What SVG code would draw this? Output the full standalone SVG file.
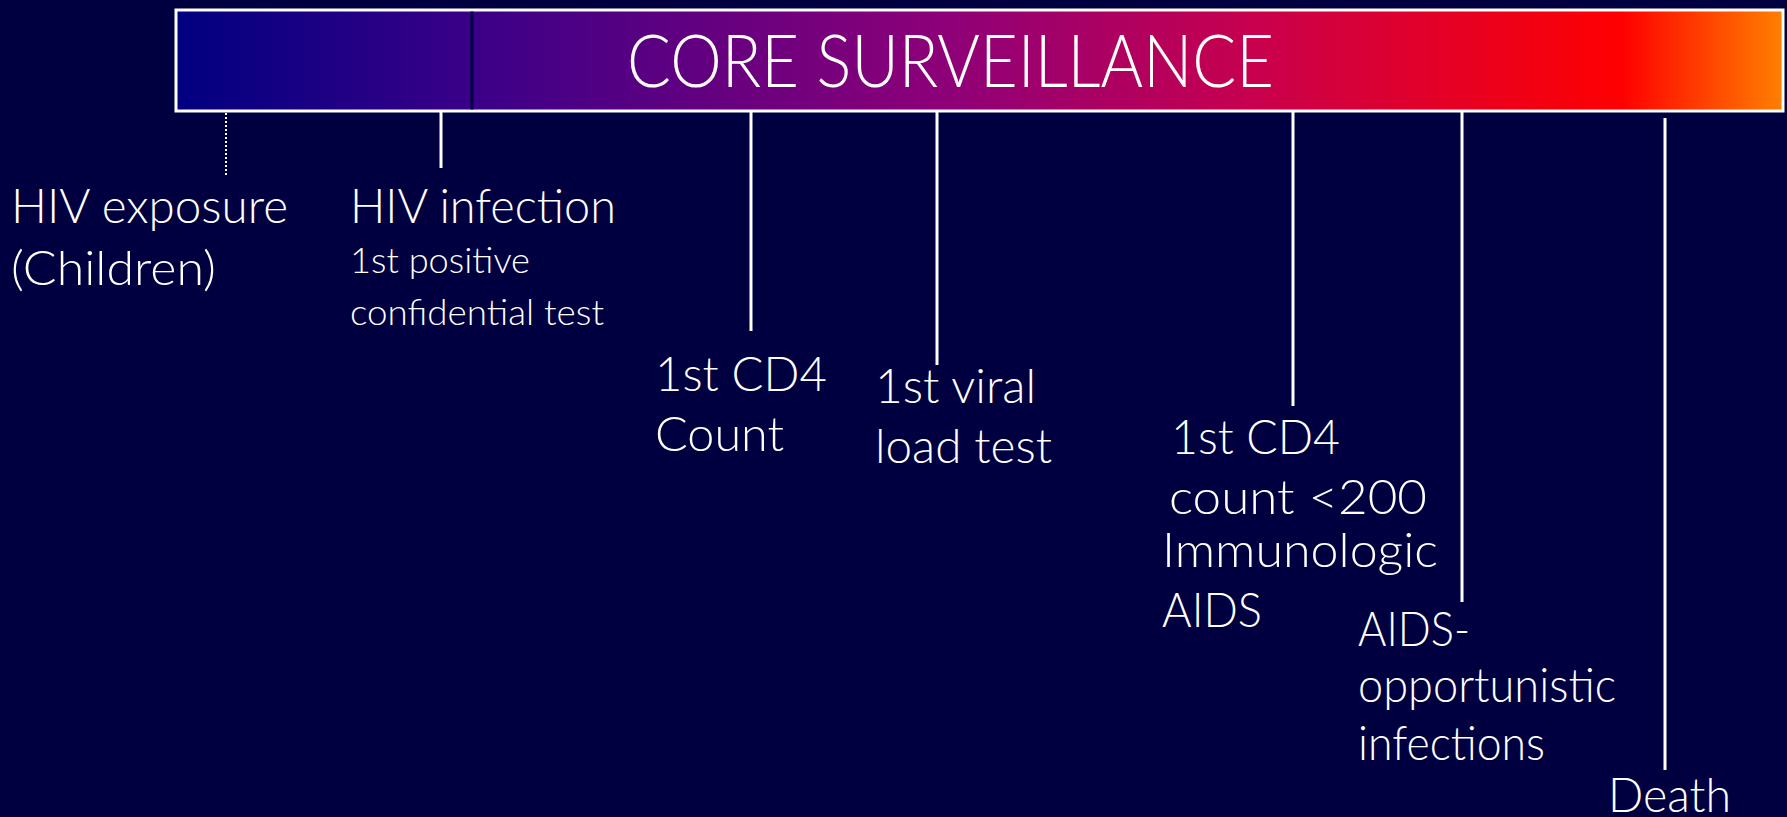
<svg xmlns="http://www.w3.org/2000/svg" width="1787" height="817" viewBox="0 0 1787 817">
<style>
.t{font-family:Lato,"Liberation Sans",sans-serif;font-weight:300;fill:#ffffff;}
.m{font-size:48px;}
.s{font-size:35px;}
.title{font-size:72px;}
.ln{stroke:#ffffff;stroke-width:3;fill:none;}
.dot{stroke:#ffffff;stroke-width:2;stroke-dasharray:2 2;fill:none;}
</style>
<defs>
<linearGradient id="bar" x1="0" y1="0" x2="1" y2="0">
<stop offset="0" stop-color="#000080"/>
<stop offset="0.184" stop-color="#3A0088"/>
<stop offset="0.48" stop-color="#8E0078"/>
<stop offset="0.67" stop-color="#C8004E"/>
<stop offset="0.90" stop-color="#FF0000"/>
<stop offset="1" stop-color="#FF8000"/>
</linearGradient>
</defs>
<rect x="0" y="0" width="1787" height="817" fill="#000040"/>
<g id="bar-node">
<rect x="176" y="10" width="1607" height="101" fill="url(#bar)" stroke="#ffffff" stroke-width="3"/>
<line x1="472" y1="11.5" x2="472" y2="109.5" stroke="#000040" stroke-width="3"/>
<text class="t title" x="627" y="87" textLength="647" lengthAdjust="spacingAndGlyphs">CORE SURVEILLANCE</text>
</g>
<g id="connectors">
<line class="dot" x1="226" y1="113" x2="226" y2="176"/>
<line class="ln" x1="441" y1="112" x2="441" y2="168"/>
<line class="ln" x1="751" y1="112" x2="751" y2="331"/>
<line class="ln" x1="937" y1="112" x2="937" y2="365"/>
<line class="ln" x1="1293" y1="112" x2="1293" y2="406"/>
<line class="ln" x1="1462" y1="112" x2="1462" y2="602"/>
<line class="ln" x1="1665" y1="118" x2="1665" y2="770"/>
</g>
<g id="hiv-exposure">
<text class="t m" x="11" y="223" textLength="277" lengthAdjust="spacingAndGlyphs">HIV exposure</text>
<text class="t m" x="11" y="285" textLength="205" lengthAdjust="spacingAndGlyphs">(Children)</text>
</g>
<g id="hiv-infection">
<text class="t m" x="350" y="223" textLength="266" lengthAdjust="spacingAndGlyphs">HIV infection</text>
<text class="t s" x="350" y="273" textLength="180" lengthAdjust="spacingAndGlyphs">1st positive</text>
<text class="t s" x="350" y="325" textLength="254" lengthAdjust="spacingAndGlyphs">confidential test</text>
</g>
<g id="first-cd4">
<text class="t m" x="655" y="391" textLength="172" lengthAdjust="spacingAndGlyphs">1st CD4</text>
<text class="t m" x="655" y="451" textLength="129" lengthAdjust="spacingAndGlyphs">Count</text>
</g>
<g id="first-viral-load">
<text class="t m" x="875" y="403" textLength="161" lengthAdjust="spacingAndGlyphs">1st viral</text>
<text class="t m" x="875" y="463" textLength="177" lengthAdjust="spacingAndGlyphs">load test</text>
</g>
<g id="cd4-below-200">
<text class="t m" x="1171" y="454" textLength="169" lengthAdjust="spacingAndGlyphs">1st CD4</text>
<text class="t m" x="1169" y="514" textLength="258" lengthAdjust="spacingAndGlyphs">count &lt;200</text>
<text class="t m" x="1162" y="567" textLength="276" lengthAdjust="spacingAndGlyphs">Immunologic</text>
<text class="t m" x="1162" y="627" textLength="100" lengthAdjust="spacingAndGlyphs">AIDS</text>
</g>
<g id="aids-oi">
<text class="t m" x="1358" y="646" textLength="112" lengthAdjust="spacingAndGlyphs">AIDS-</text>
<text class="t m" x="1358" y="702" textLength="258" lengthAdjust="spacingAndGlyphs">opportunistic</text>
<text class="t m" x="1358" y="760" textLength="187" lengthAdjust="spacingAndGlyphs">infections</text>
</g>
<g id="death">
<text class="t m" x="1608" y="812" textLength="123" lengthAdjust="spacingAndGlyphs">Death</text>
</g>
</svg>
